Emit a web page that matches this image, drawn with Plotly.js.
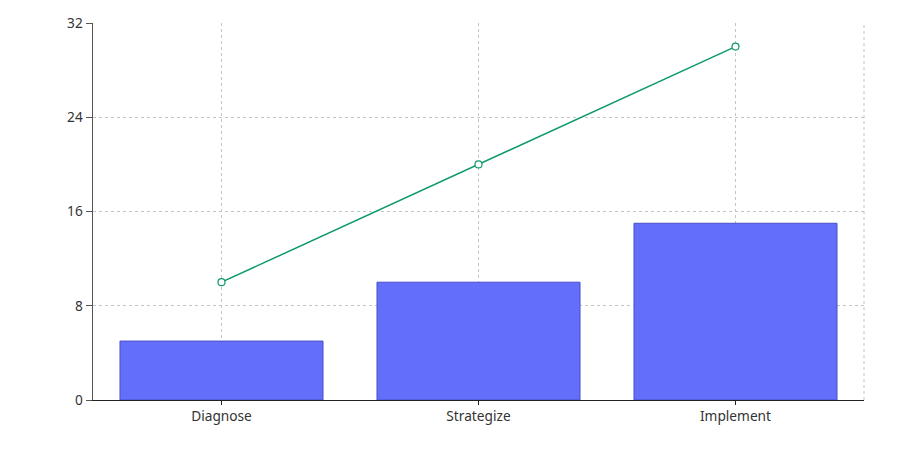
<!DOCTYPE html>
<html>
<head>
<meta charset="utf-8">
<script src="https://cdn.plot.ly/plotly-3.0.1.min.js"></script>
<style>html,body{margin:0;padding:0;background:#fff;}#chart{width:900px;height:470px;}</style>
</head>
<body>
<div id="chart"></div>
<script>
const categories = ["Diagnose", "Strategize", "Implement"];
const barValues = [5, 10, 15];
const lineValues = [10, 20, 30];
const yTicks = [0, 8, 16, 24, 32];

const traces = [
  {
    type: "bar",
    x: categories,
    y: barValues,
    marker: {color: "#636efa", line: {color: "#4b50c8", width: 1}},
    width: 0.79,
    showlegend: false,
    hoverinfo: "x+y"
  },
  {
    type: "scatter",
    mode: "lines+markers",
    x: categories,
    y: lineValues,
    line: {color: "#0e9a68", width: 1.5},
    marker: {symbol: "circle", size: 7, color: "#ffffff", line: {color: "#0e9a68", width: 1.2}},
    showlegend: false
  }
];

const gridDash = "3px,3px";
const gridStyle = {color: "#c4c4c4", dash: gridDash, width: 1};

const layout = {
  width: 900,
  height: 470,
  margin: {l: 93, r: 36, t: 23, b: 70},
  paper_bgcolor: "#ffffff",
  plot_bgcolor: "#ffffff",
  font: {family: "Noto Sans, Open Sans, sans-serif", size: 13, color: "#333333"},
  showlegend: false,
  xaxis: {
    type: "category",
    range: [-0.5, 2.5],
    showgrid: true,
    gridcolor: "#c4c4c4",
    griddash: gridDash,
    gridwidth: 1,
    showline: true,
    linecolor: "#222222",
    linewidth: 1,
    ticks: "outside",
    ticklen: 4,
    tickcolor: "#222222",
    tickfont: {size: 13.7, color: "#333333"},
    zeroline: false
  },
  yaxis: {
    range: [0, 32],
    tickvals: yTicks,
    ticktext: yTicks.map(String),
    showgrid: true,
    gridcolor: "#c4c4c4",
    griddash: gridDash,
    gridwidth: 1,
    showline: true,
    linecolor: "#555555",
    linewidth: 1.5,
    ticks: "outside",
    ticklen: 6,
    tickcolor: "#555555",
    tickfont: {size: 13.7, color: "#333333"},
    zeroline: false
  },
  shapes: [
    {type: "line", xref: "paper", yref: "paper", x0: 1, x1: 1, y0: 0, y1: 1, line: gridStyle, layer: "below"}
  ]
};

Plotly.newPlot("chart", traces, layout, {displayModeBar: false, staticPlot: true});
</script>
</body>
</html>
